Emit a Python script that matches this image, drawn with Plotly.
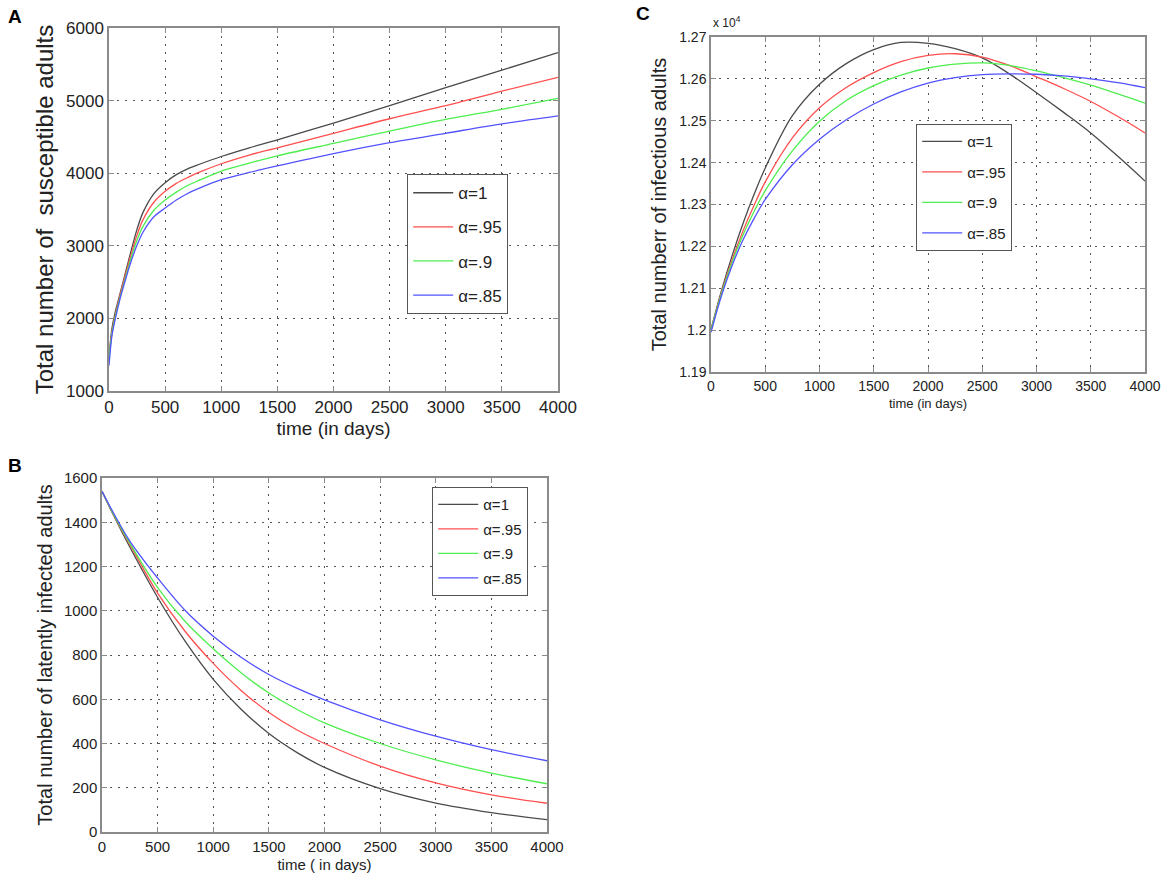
import plotly.graph_objects as go

# ---------------- data ----------------
alpha_labels = ["α=1", "α=.95", "α=.9", "α=.85"]
line_colors = ["#4a4a4a", "#ff4f4f", "#4fee4f", "#5252ff"]

# Panel A : susceptible adults
tA = [0, 25, 50, 100, 150, 200, 250, 300, 400, 500, 600, 700, 800, 1000, 1250, 1500, 2000, 2500, 3000, 3500, 4000]
A_a100 = [1450, 1850, 2050, 2350, 2650, 2950, 3230, 3450, 3720, 3870, 3980, 4060, 4120, 4230, 4350, 4460, 4690, 4930, 5180, 5420, 5660]
A_a095 = [1450, 1800, 2000, 2330, 2620, 2900, 3150, 3350, 3600, 3750, 3860, 3940, 4010, 4130, 4250, 4350, 4550, 4750, 4930, 5130, 5320]
A_a090 = [1450, 1780, 1980, 2300, 2580, 2850, 3080, 3260, 3490, 3630, 3740, 3830, 3900, 4030, 4140, 4240, 4410, 4580, 4740, 4880, 5030]
A_a085 = [1350, 1750, 1950, 2280, 2550, 2800, 3010, 3180, 3400, 3520, 3630, 3720, 3790, 3910, 4010, 4100, 4270, 4420, 4550, 4680, 4790]

# Panel B : latently infected adults
tB = [0, 100, 250, 500, 750, 1000, 1250, 1500, 1750, 2000, 2500, 3000, 3500, 4000]
B_a100 = [1540, 1435, 1288, 1060, 860, 690, 555, 445, 360, 292, 196, 131, 88, 56]
B_a095 = [1540, 1438, 1300, 1080, 905, 762, 640, 540, 462, 400, 298, 222, 168, 130]
B_a090 = [1540, 1440, 1305, 1105, 950, 828, 720, 628, 555, 493, 400, 326, 266, 218]
B_a085 = [1540, 1445, 1315, 1148, 1000, 885, 790, 712, 650, 597, 507, 433, 372, 322]

# Panel C : infectious adults (actual counts)
tC = [0, 100, 200, 300, 400, 500, 750, 1000, 1250, 1500, 1750, 2000, 2250, 2500, 2750, 3000, 3250, 3500, 3750, 4000]
C_a100 = [12002, 12097, 12182, 12258, 12326, 12387, 12512, 12587, 12637, 12670, 12687, 12685, 12672, 12650, 12612, 12567, 12520, 12471, 12415, 12356]
C_a095 = [12000, 12093, 12172, 12240, 12300, 12354, 12459, 12531, 12580, 12615, 12641, 12656, 12660, 12652, 12632, 12605, 12577, 12546, 12510, 12471]
C_a090 = [12000, 12090, 12166, 12230, 12285, 12333, 12428, 12499, 12549, 12584, 12609, 12626, 12635, 12638, 12632, 12619, 12603, 12585, 12564, 12542]
C_a085 = [11995, 12085, 12158, 12218, 12268, 12312, 12395, 12456, 12503, 12540, 12569, 12590, 12603, 12610, 12612, 12611, 12607, 12600, 12591, 12579]

x_ticks = [0, 500, 1000, 1500, 2000, 2500, 3000, 3500, 4000]
A_yticks = [1000, 2000, 3000, 4000, 5000, 6000]
B_yticks = [0, 200, 400, 600, 800, 1000, 1200, 1400, 1600]
C_yticks = [11900, 12000, 12100, 12200, 12300, 12400, 12500, 12600, 12700]
C_yticktext = ["%g" % (v / 1e4) for v in C_yticks]

# ---------------- layout helpers ----------------
W, H = 1170, 888


def px_x(p):
    return p / W


def px_y(p):
    return 1 - p / H


FONT = "Liberation Sans, Arial, sans-serif"
GRID = "#555555"
FRAME = "#8a8a8a"

fig = go.Figure()

panels = [
    ("x", "y", "legend", tA, [A_a100, A_a095, A_a090, A_a085], 0.8),
    ("x2", "y2", "legend2", tB, [B_a100, B_a095, B_a090, B_a085], 1.0),
    ("x3", "y3", "legend3", tC, [C_a100, C_a095, C_a090, C_a085], 1.0),
]
for xa, ya, lg, t, series, sm in panels:
    for name, col, vals in zip(alpha_labels, line_colors, series):
        fig.add_trace(go.Scatter(
            x=t, y=vals, mode="lines", name=name, xaxis=xa, yaxis=ya,
            legend=lg, legendgroup=lg + name,
            line=dict(color=col, width=1.3, shape="spline", smoothing=sm),
            showlegend=True,
        ))


def xaxis(domain, anchor, title, tsize, title_size, standoff):
    return dict(
        domain=domain, anchor=anchor, range=[0, 4000], tickvals=x_ticks,
        showgrid=True, gridcolor=GRID, griddash="2px,6px", gridwidth=1,
        showline=True, linecolor=FRAME, linewidth=1.5, mirror="ticks",
        ticks="inside", ticklen=5, tickcolor=FRAME,
        tickfont=dict(family=FONT, size=tsize, color="#222222"),
        ticklabeloverflow="allow",
        title=dict(text=title, font=dict(family=FONT, size=title_size, color="#222222"), standoff=standoff),
        zeroline=False, automargin=False,
    )


def yaxis(domain, anchor, rng, tickvals, title, tsize, title_size, standoff, ticktext=None):
    d = dict(
        domain=domain, anchor=anchor, range=rng, tickvals=tickvals,
        showgrid=True, gridcolor=GRID, griddash="2px,6px", gridwidth=1,
        showline=True, linecolor=FRAME, linewidth=1.5, mirror="ticks",
        ticks="inside", ticklen=5, tickcolor=FRAME,
        tickfont=dict(family=FONT, size=tsize, color="#222222"),
        ticklabeloverflow="allow",
        title=dict(text=title, font=dict(family=FONT, size=title_size, color="#222222"), standoff=standoff),
        zeroline=False, automargin=False,
    )
    if ticktext is not None:
        d["ticktext"] = ticktext
    return d


def legend(x, y, size, gap):
    return dict(
        x=px_x(x), y=px_y(y), xanchor="left", yanchor="top",
        bgcolor="white", bordercolor="#555555", borderwidth=1.2,
        font=dict(family=FONT, size=size, color="#222222"),
        tracegroupgap=gap, itemwidth=40,
    )


fig.update_layout(
    width=W, height=H, margin=dict(l=0, r=0, t=0, b=0),
    paper_bgcolor="white", plot_bgcolor="white",
    xaxis=xaxis([px_x(109), px_x(558)], "y", "time (in days)", 17, 19, 6),
    yaxis=yaxis([px_y(391), px_y(28)], "x", [1000, 6000], A_yticks,
                "Total number of  susceptible adults", 17, 24, 6),
    xaxis2=xaxis([px_x(102), px_x(547)], "y2", "time ( in days)", 15, 15, 6),
    yaxis2=yaxis([px_y(832), px_y(478)], "x2", [0, 1600], B_yticks,
                 "Total number of latently infected adults", 15, 20, 6),
    xaxis3=xaxis([px_x(711), px_x(1145)], "y3", "time (in days)", 14, 13, 6),
    yaxis3=yaxis([px_y(372), px_y(37)], "x3", [11900, 12700], C_yticks,
                 "Total numberr of infectious adults", 14, 20, 7, ticktext=C_yticktext),
    legend=legend(407, 174, 17, 9),
    legend2=legend(432, 487, 15, 2),
    legend3=legend(916, 124, 15, 8),
    annotations=[
        dict(text="<b>A</b>", x=px_x(6), y=px_y(16), xref="paper", yref="paper",
             xanchor="left", yanchor="middle", showarrow=False,
             font=dict(family=FONT, size=19, color="black")),
        dict(text="<b>B</b>", x=px_x(6), y=px_y(465), xref="paper", yref="paper",
             xanchor="left", yanchor="middle", showarrow=False,
             font=dict(family=FONT, size=19, color="black")),
        dict(text="<b>C</b>", x=px_x(634), y=px_y(13), xref="paper", yref="paper",
             xanchor="left", yanchor="middle", showarrow=False,
             font=dict(family=FONT, size=19, color="black")),
        dict(text="x 10<sup>4</sup>", x=px_x(711), y=px_y(22), xref="paper", yref="paper",
             xanchor="left", yanchor="middle", showarrow=False,
             font=dict(family=FONT, size=12, color="#222222")),
    ],
)

fig.write_html(
    "out.html",
    config={"displayModeBar": False},
    post_script="document.body.style.margin='0';document.body.style.padding='0';"
                "document.body.style.overflow='hidden';",
)
